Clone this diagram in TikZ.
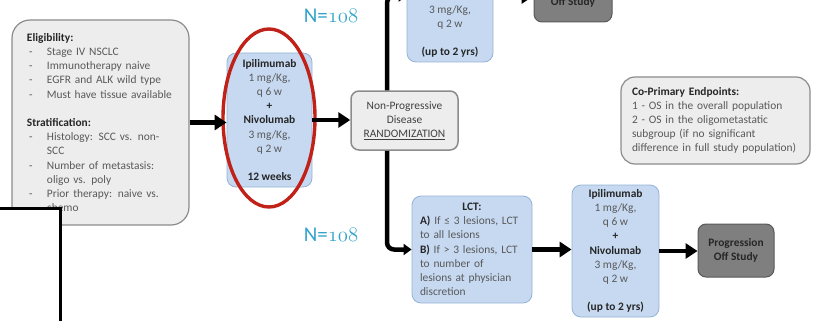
\documentclass[tikz,border=0pt]{standalone}
\usepackage{fontspec}
\setmainfont{Carlito}
\usetikzlibrary{arrows.meta,shapes.geometric}

\definecolor{boxgrey}{HTML}{EDEDED}
\definecolor{edgegrey}{HTML}{8C8C8C}
\definecolor{txtgrey}{HTML}{595959}
\definecolor{txtdark}{HTML}{262626}
\definecolor{txtmid}{HTML}{404040}
\definecolor{blfill}{HTML}{C6D9F1}
\definecolor{bledge}{HTML}{95B3D7}
\definecolor{darkfill}{HTML}{7F7F7F}
\definecolor{darkedge}{HTML}{595959}
\definecolor{ringred}{HTML}{C0221A}
\definecolor{armteal}{HTML}{31A3C9}

% bullet dash with hanging text
\newcommand{\dashitem}{\makebox[20pt][l]{\hspace{2pt}-}}
\newcommand{\hang}{\hspace*{20pt}}
\newcommand{\hd}[1]{\textbf{\color{txtdark}#1}}
% old-style figures from the math italic font
\newcommand{\osnum}[1]{{\fontencoding{OML}\fontfamily{cmm}\fontseries{m}\fontshape{it}\selectfont #1}}

\begin{document}
\begin{tikzpicture}[x=1pt,y=-1pt,
  font=\fontsize{11.4}{14.2}\selectfont,
  greybox/.style={draw=edgegrey, fill=boxgrey, line width=1.2pt, text=txtgrey, inner sep=0pt},
  bluebox/.style={draw=bledge, fill=blfill, line width=0.8pt, rounded corners=9pt,
    text=txtgrey, align=center, inner sep=0pt},
  darkbox/.style={draw=darkedge, fill=darkfill, line width=1pt, rounded corners=8pt,
    text=txtdark, font=\fontsize{11.4}{14.2}\selectfont\bfseries, align=center, inner sep=0pt},
  flow/.style={line width=4.5pt, -{Triangle[length=12pt,width=15pt]}},
  trunk/.style={line width=4.5pt, rounded corners=7pt, -{Triangle[length=8pt,width=11pt]}},
  armlabel/.style={text=armteal, font=\fontsize{21}{21}\selectfont}]

\useasboundingbox (0,0) rectangle (814,321);
\clip (0,0) rectangle (814,321);

% eligibility and stratification
\node[greybox, rounded corners=18pt, minimum width=177pt, minimum height=205pt,
      text width=147pt, inner xsep=15pt, align=left] (elig) at (100.5,122.5) {%
  \hd{Eligibility:}\\
  \dashitem Stage IV NSCLC\\
  \dashitem Immunotherapy naive\\
  \dashitem EGFR and ALK wild type\\
  \dashitem Must have tissue available\\[14.2pt]
  \hd{Stratification:}\\
  \dashitem Histology: SCC vs. non-\\
  \hang SCC\\
  \dashitem Number of metastasis:\\
  \hang oligo vs. poly\\
  \dashitem Prior therapy: naive vs.\\
  \hang chemo};

% white panel in the lower left corner
\node[draw=black, fill=white, line width=2.8pt, minimum width=120pt, minimum height=160pt,
      anchor=north east, inner sep=0pt] (inset) at (62,207) {};

% induction
\node[bluebox, minimum width=85pt, minimum height=134pt] (ipi) at (269.5,120) {%
  \hd{Ipilimumab}\\ 1 mg/Kg,\\ q 6 w\\ \hd{+}\\ \hd{Nivolumab}\\ 3 mg/Kg,\\ q 2 w\\[14.2pt]
  \hd{12 weeks}};

\node[draw=ringred, line width=3.4pt, ellipse, minimum width=92pt, minimum height=178pt,
      inner sep=0pt] (ring) at (269,118) {};

% randomization
\node[greybox, rounded corners=8pt, line width=1.5pt, minimum width=107pt, minimum height=59pt,
      text=txtmid, align=center] (rand) at (404.5,120.5) {%
  Non-Progressive\\ Disease\\ \underline{RANDOMIZATION}};

% maintenance arm
\node[bluebox, minimum width=86pt, minimum height=132pt] (upper) at (450,-4) {%
  \hd{Ipilimumab}\\ 1 mg/Kg,\\ q 6 w\\ \hd{+}\\ \hd{Nivolumab}\\ 3 mg/Kg,\\ q 2 w\\[14.2pt]
  \hd{(up to 2 yrs)}};
\node[darkbox, minimum width=78pt, minimum height=53pt] (updark) at (573,-4.5) {%
  Progression\\ Off Study};

% LCT arm
\node[bluebox, minimum width=120pt, minimum height=107pt, text width=104pt, align=left]
  (lct) at (472,249.5) {%
  \makebox[104pt][c]{\hd{LCT:}}\\
  \hd{A)} If ≤ 3 lesions, LCT\\
  to all lesions\\
  \hd{B)} If > 3 lesions, LCT\\
  to number of\\
  lesions at physician\\
  discretion};
\node[bluebox, minimum width=87pt, minimum height=132pt] (lower) at (615.5,251) {%
  \hd{Ipilimumab}\\ 1 mg/Kg,\\ q 6 w\\ \hd{+}\\ \hd{Nivolumab}\\ 3 mg/Kg,\\ q 2 w\\[14.2pt]
  \hd{(up to 2 yrs)}};
\node[darkbox, minimum width=76pt, minimum height=53pt] (prog) at (736,250.5) {%
  Progression\\ Off Study};

% endpoints
\node[greybox, rounded corners=14pt, minimum width=189pt, minimum height=87pt,
      text width=167pt, inner xsep=11pt, align=left] (endp) at (715.5,120.5) {%
  \hd{Co-Primary Endpoints:}\\
  1 - OS in the overall population\\
  2 - OS in the oligometastatic\\
  subgroup (if no significant\\
  difference in full study population)};

% arm sizes
\node[armlabel] (nA) at (331,16) {N=\osnum{108}};
\node[armlabel] (nB) at (331,235) {N=\osnum{108}};

% connectors
\draw[flow] (elig.east) -- (elig.east -| ipi.west);
\draw[flow] (ipi.east) -- (ipi.east -| rand.west);
\draw[trunk] ([xshift=-17.5pt]rand.north) |- (upper.west);
\draw[trunk] ([xshift=-17.5pt]rand.south) |- (lct.west);
\draw[flow] (upper.east) -- (upper.east -| updark.west);
\draw[flow] (lct.east) -- (lct.east -| lower.west);
\draw[flow] (lower.east) -- (lower.east -| prog.west);

\end{tikzpicture}
\end{document}
